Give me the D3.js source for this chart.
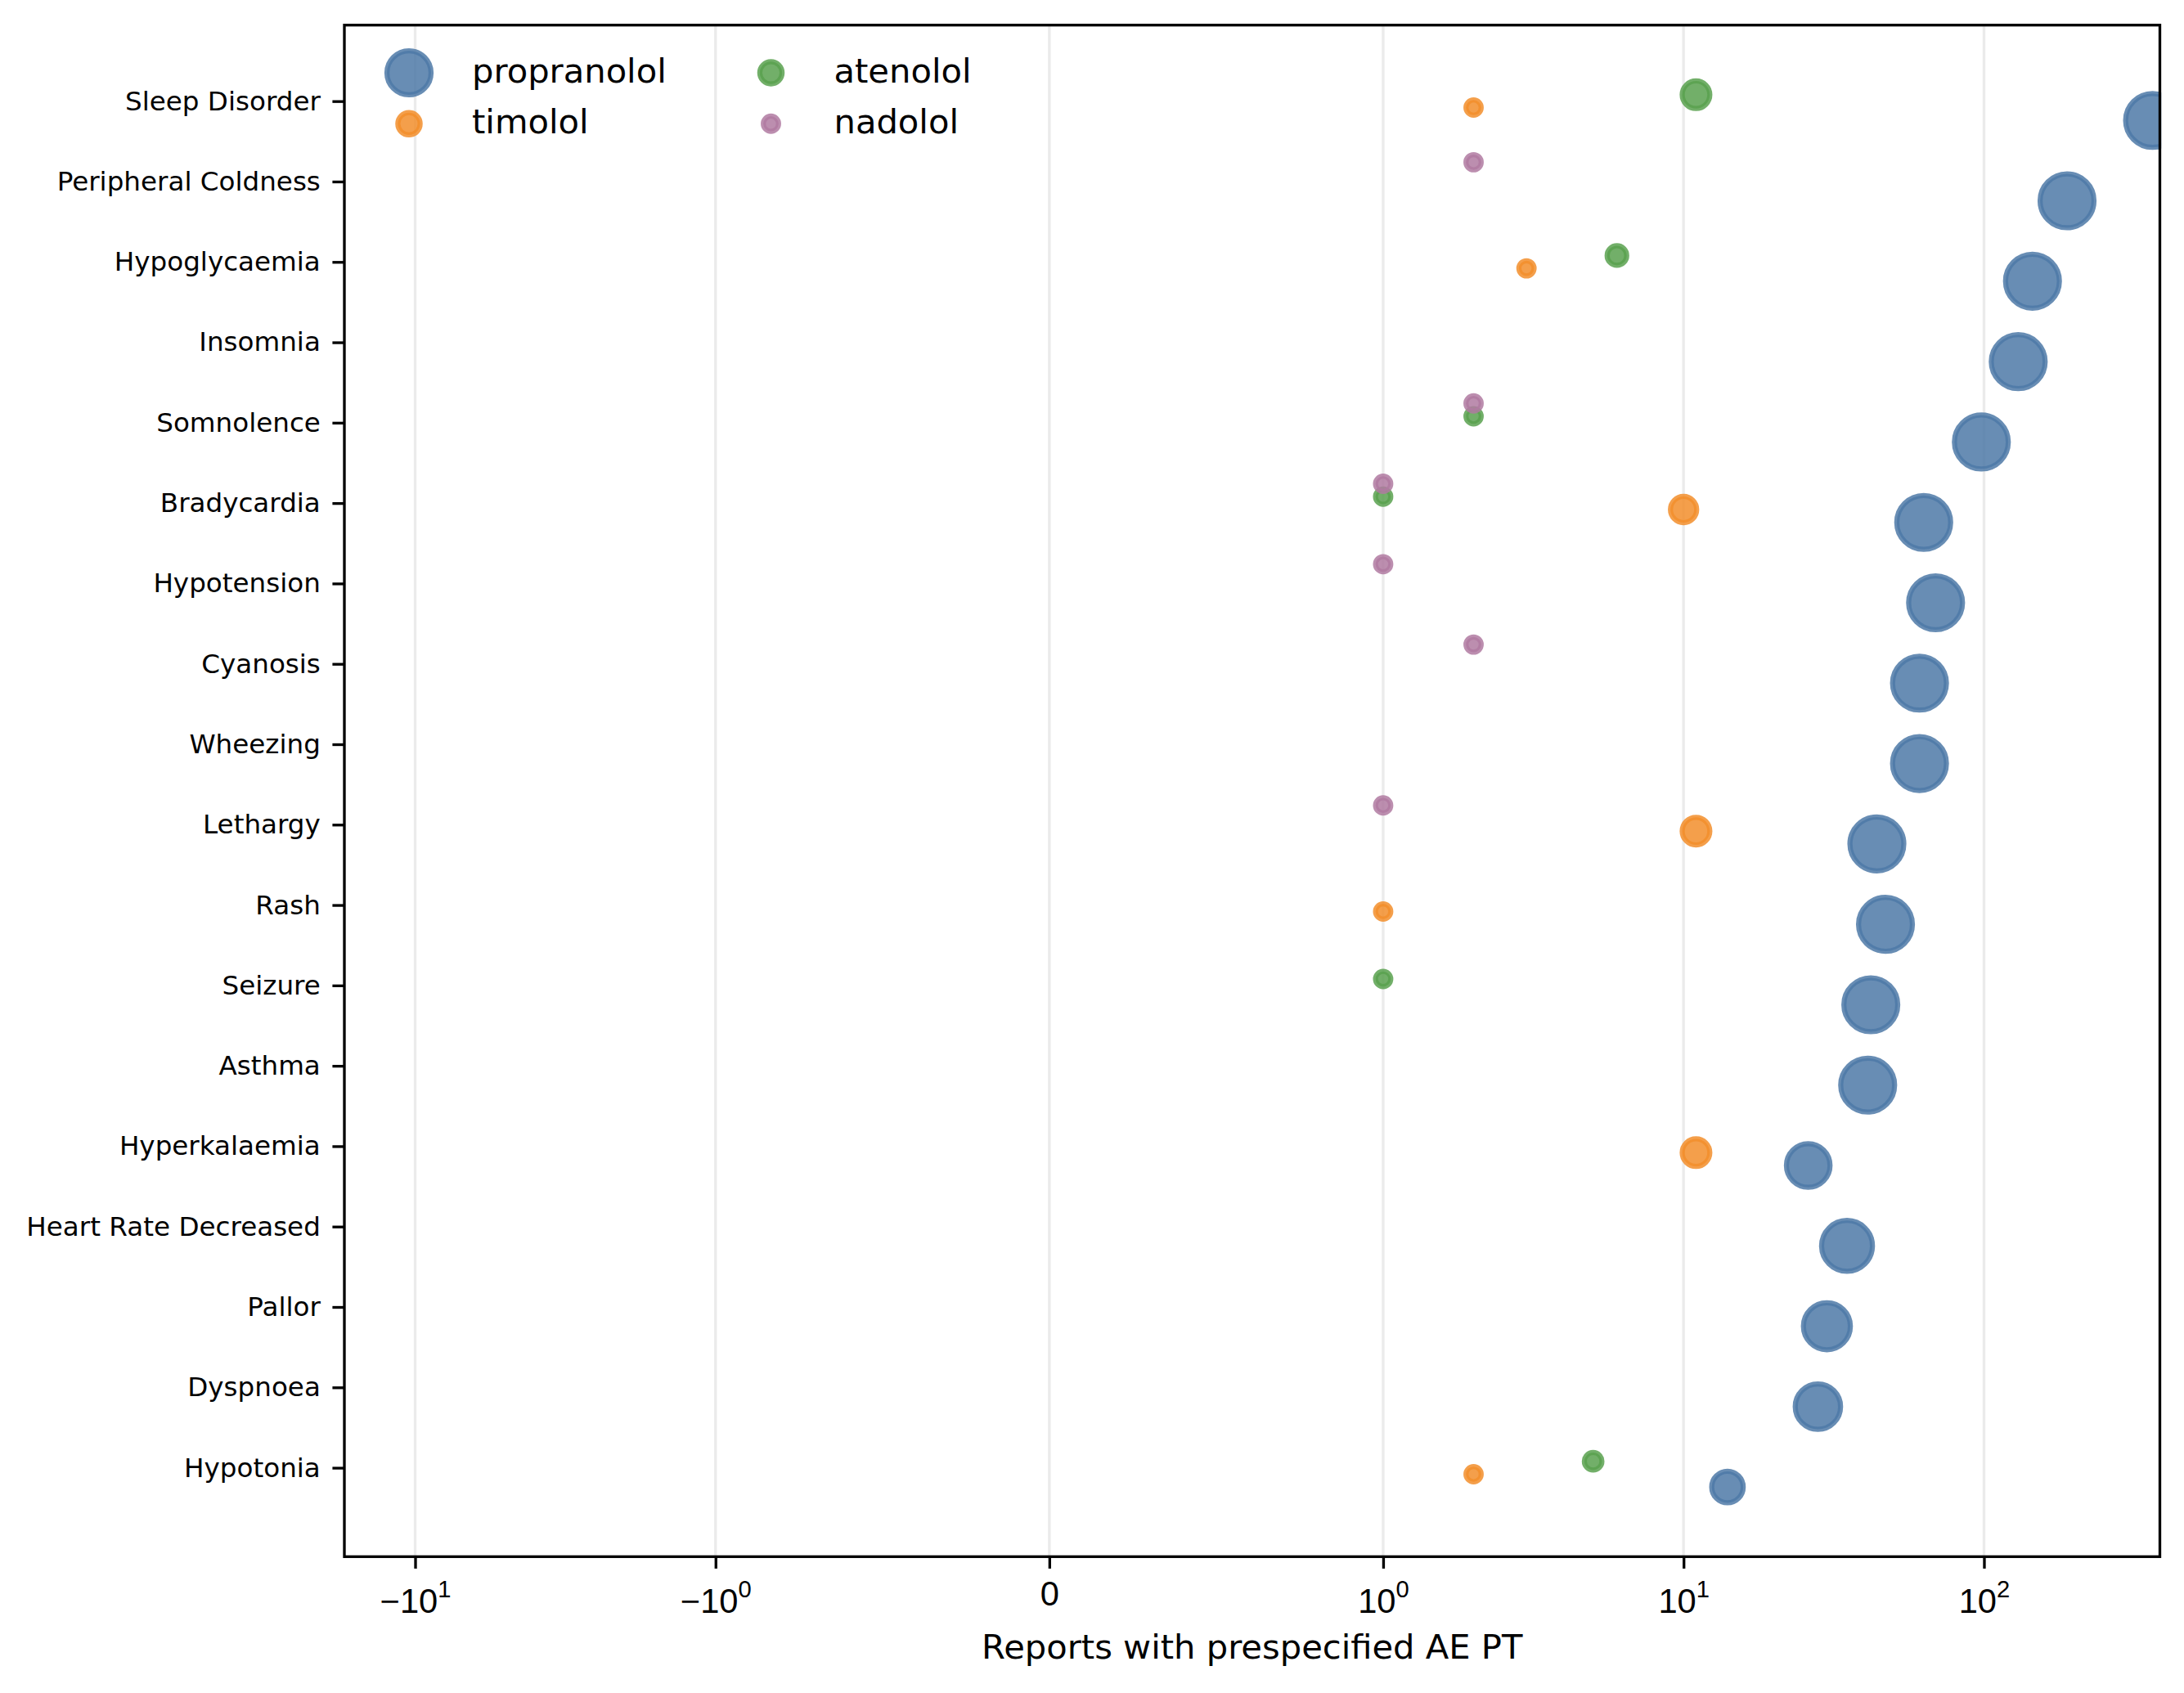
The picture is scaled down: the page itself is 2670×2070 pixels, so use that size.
<!DOCTYPE html>
<html>
<head>
<meta charset="utf-8">
<script src="https://cdn.jsdelivr.net/npm/d3@7"></script>
<style>
  html, body { margin: 0; padding: 0; background: #fff; }
  svg { display: block; font-family: "DejaVu Sans", sans-serif; }
</style>
</head>
<body>
<div id="chart"></div>
<script>
// adverse-event preferred terms, top to bottom
const TERMS = ["Sleep Disorder", "Peripheral Coldness", "Hypoglycaemia", "Insomnia", "Somnolence",
  "Bradycardia", "Hypotension", "Cyanosis", "Wheezing", "Lethargy", "Rash", "Seizure", "Asthma",
  "Hyperkalaemia", "Heart Rate Decreased", "Pallor", "Dyspnoea", "Hypotonia"];

const DRUGS = ["propranolol", "timolol", "atenolol", "nadolol"];

// report counts per term (null = no reports)
const PROPRANOLOL = [364, 189, 145, 130, 98, 63, 69, 61, 61, 44, 47, 42, 41, 26, 35, 30, 28, 14];
const TIMOLOL     = [2, null, 3, null, null, 10, null, null, null, 11, 1, null, null, 11, null, null, null, 2];
const ATENOLOL    = [11, null, 6, null, 2, 1, null, null, null, null, null, 1, null, null, null, null, null, 5];
const NADOLOL     = [null, 2, null, null, 2, 1, 1, 2, null, 1, null, null, null, null, null, null, null, null];

const X_TICKS = [-10, -1, 0, 1, 10, 100];
const X_LIMITS = [-17.2, 385];

const COLORS = ["#4E79A7", "#F28E2B", "#59A14F", "#B07AA1"];
const OFFSETS = [0.24, 0.08, -0.08, -0.24];   // row dodge per drug

const W = 2670, H = 2070;
const PT = 300 / 72;                           // points -> px
const M = { left: 421, right: 2640.5, top: 30.7, bottom: 1903.3 };

// matplotlib-style symlog, linthresh 1, linscale 1
const LINSCALE = 1 / (1 - 1 / 10);
function symlog(v) {
  const a = Math.abs(v);
  return a <= 1 ? v * LINSCALE : Math.sign(v) * (LINSCALE + Math.log10(a));
}

const seriesValues = [PROPRANOLOL, TIMOLOL, ATENOLOL, NADOLOL];
const points = [];
seriesValues.forEach((vals, s) => {
  vals.forEach((v, i) => {
    if (v != null) points.push({ drug: DRUGS[s], s, term: TERMS[i], v, pos: i + OFFSETS[s] });
  });
});

const x = d3.scaleLinear().domain(X_LIMITS.map(symlog)).range([M.left, M.right]);
const [pMin, pMax] = d3.extent(points, d => d.pos);
const pad = (pMax - pMin) * 0.05;
const y = d3.scaleLinear().domain([pMin - pad, pMax + pad]).range([M.top, M.bottom]);

// marker area in pt^2
const area = d3.scaleLinear().domain([4, 39.2]).range([20, 250]).clamp(true);
const radius = s => Math.sqrt(s) / 2 * PT;
const EDGE = 1.5 * PT;

const svg = d3.select("#chart").append("svg").attr("width", W).attr("height", H);

// grid
svg.append("g").selectAll("line").data(X_TICKS).join("line")
  .attr("x1", d => x(symlog(d))).attr("x2", d => x(symlog(d)))
  .attr("y1", M.top).attr("y2", M.bottom)
  .attr("stroke", "#b0b0b0").attr("stroke-opacity", 0.25).attr("stroke-width", 0.8 * PT);

// points
svg.append("g").selectAll("circle").data(points).join("circle")
  .attr("cx", d => x(symlog(d.v)))
  .attr("cy", d => y(d.pos))
  .attr("r", d => radius(area(d.v)))
  .attr("fill", d => COLORS[d.s]).attr("fill-opacity", 0.85)
  .attr("stroke", d => COLORS[d.s]).attr("stroke-opacity", 0.85)
  .attr("stroke-width", EDGE);

// clip overflow on the right like the axes box
svg.append("rect").attr("x", M.right + 1.7).attr("y", 0).attr("width", W - M.right).attr("height", H).attr("fill", "#fff");

// x axis
const xAxis = svg.append("g").attr("transform", `translate(0,${M.bottom})`)
  .call(d3.axisBottom(x).tickValues(X_TICKS.map(symlog)).tickSize(3.5 * PT).tickSizeOuter(0).tickFormat(""));
xAxis.select(".domain").remove();
xAxis.selectAll(".tick line").attr("stroke", "#000").attr("stroke-width", 0.8 * PT);
xAxis.selectAll(".tick").each(function (d, i) {
  const v = X_TICKS[i];
  const t = d3.select(this).append("text").attr("fill", "#000")
    .attr("text-anchor", "middle").attr("font-size", 10 * PT);
  if (v === 0) {
    t.attr("y", 60).text("0");
  } else {
    t.attr("y", 68.5);
    t.append("tspan").text((v < 0 ? "\u2212" : "") + "10");
    t.append("tspan").attr("font-size", 7 * PT).attr("dy", -18.5).text(String(Math.round(Math.log10(Math.abs(v)))));
  }
});

svg.append("text")
  .attr("x", (M.left + M.right) / 2).attr("y", 2028)
  .attr("text-anchor", "middle").attr("font-size", 10 * PT)
  .text("Reports with prespecified AE PT");

// y axis
const yAxis = svg.append("g").attr("transform", `translate(${M.left},0)`)
  .call(d3.axisLeft(y).tickValues(d3.range(TERMS.length)).tickSize(3.5 * PT).tickPadding(3.5 * PT)
    .tickFormat(i => TERMS[i]));
yAxis.select(".domain").remove();
yAxis.selectAll(".tick line").attr("stroke", "#000").attr("stroke-width", 0.8 * PT);
yAxis.selectAll(".tick text").attr("fill", "#000").attr("font-size", 32.6)
  .attr("font-family", "DejaVu Sans");

// axes frame
svg.append("rect")
  .attr("x", M.left).attr("y", M.top)
  .attr("width", M.right - M.left).attr("height", M.bottom - M.top)
  .attr("fill", "none").attr("stroke", "#000").attr("stroke-width", 0.8 * PT);

// legend (2 columns, no frame); marker size = mid of series min/max
const legendCols = [500, 942.5], legendRows = [89, 151.3], legendTextDx = 77;
const legend = svg.append("g");
DRUGS.forEach((name, s) => {
  const areas = seriesValues[s].filter(v => v != null).map(area);
  const mid = (d3.min(areas) + d3.max(areas)) / 2;
  const cx = legendCols[Math.floor(s / 2)], cy = legendRows[s % 2];
  legend.append("circle").attr("cx", cx).attr("cy", cy).attr("r", radius(mid))
    .attr("fill", COLORS[s]).attr("fill-opacity", 0.85)
    .attr("stroke", COLORS[s]).attr("stroke-opacity", 0.85).attr("stroke-width", EDGE);
  legend.append("text").attr("x", cx + legendTextDx).attr("y", cy + 11.5)
    .attr("font-size", 10 * PT).attr("fill", "#000").text(name);
});
</script>
</body>
</html>
